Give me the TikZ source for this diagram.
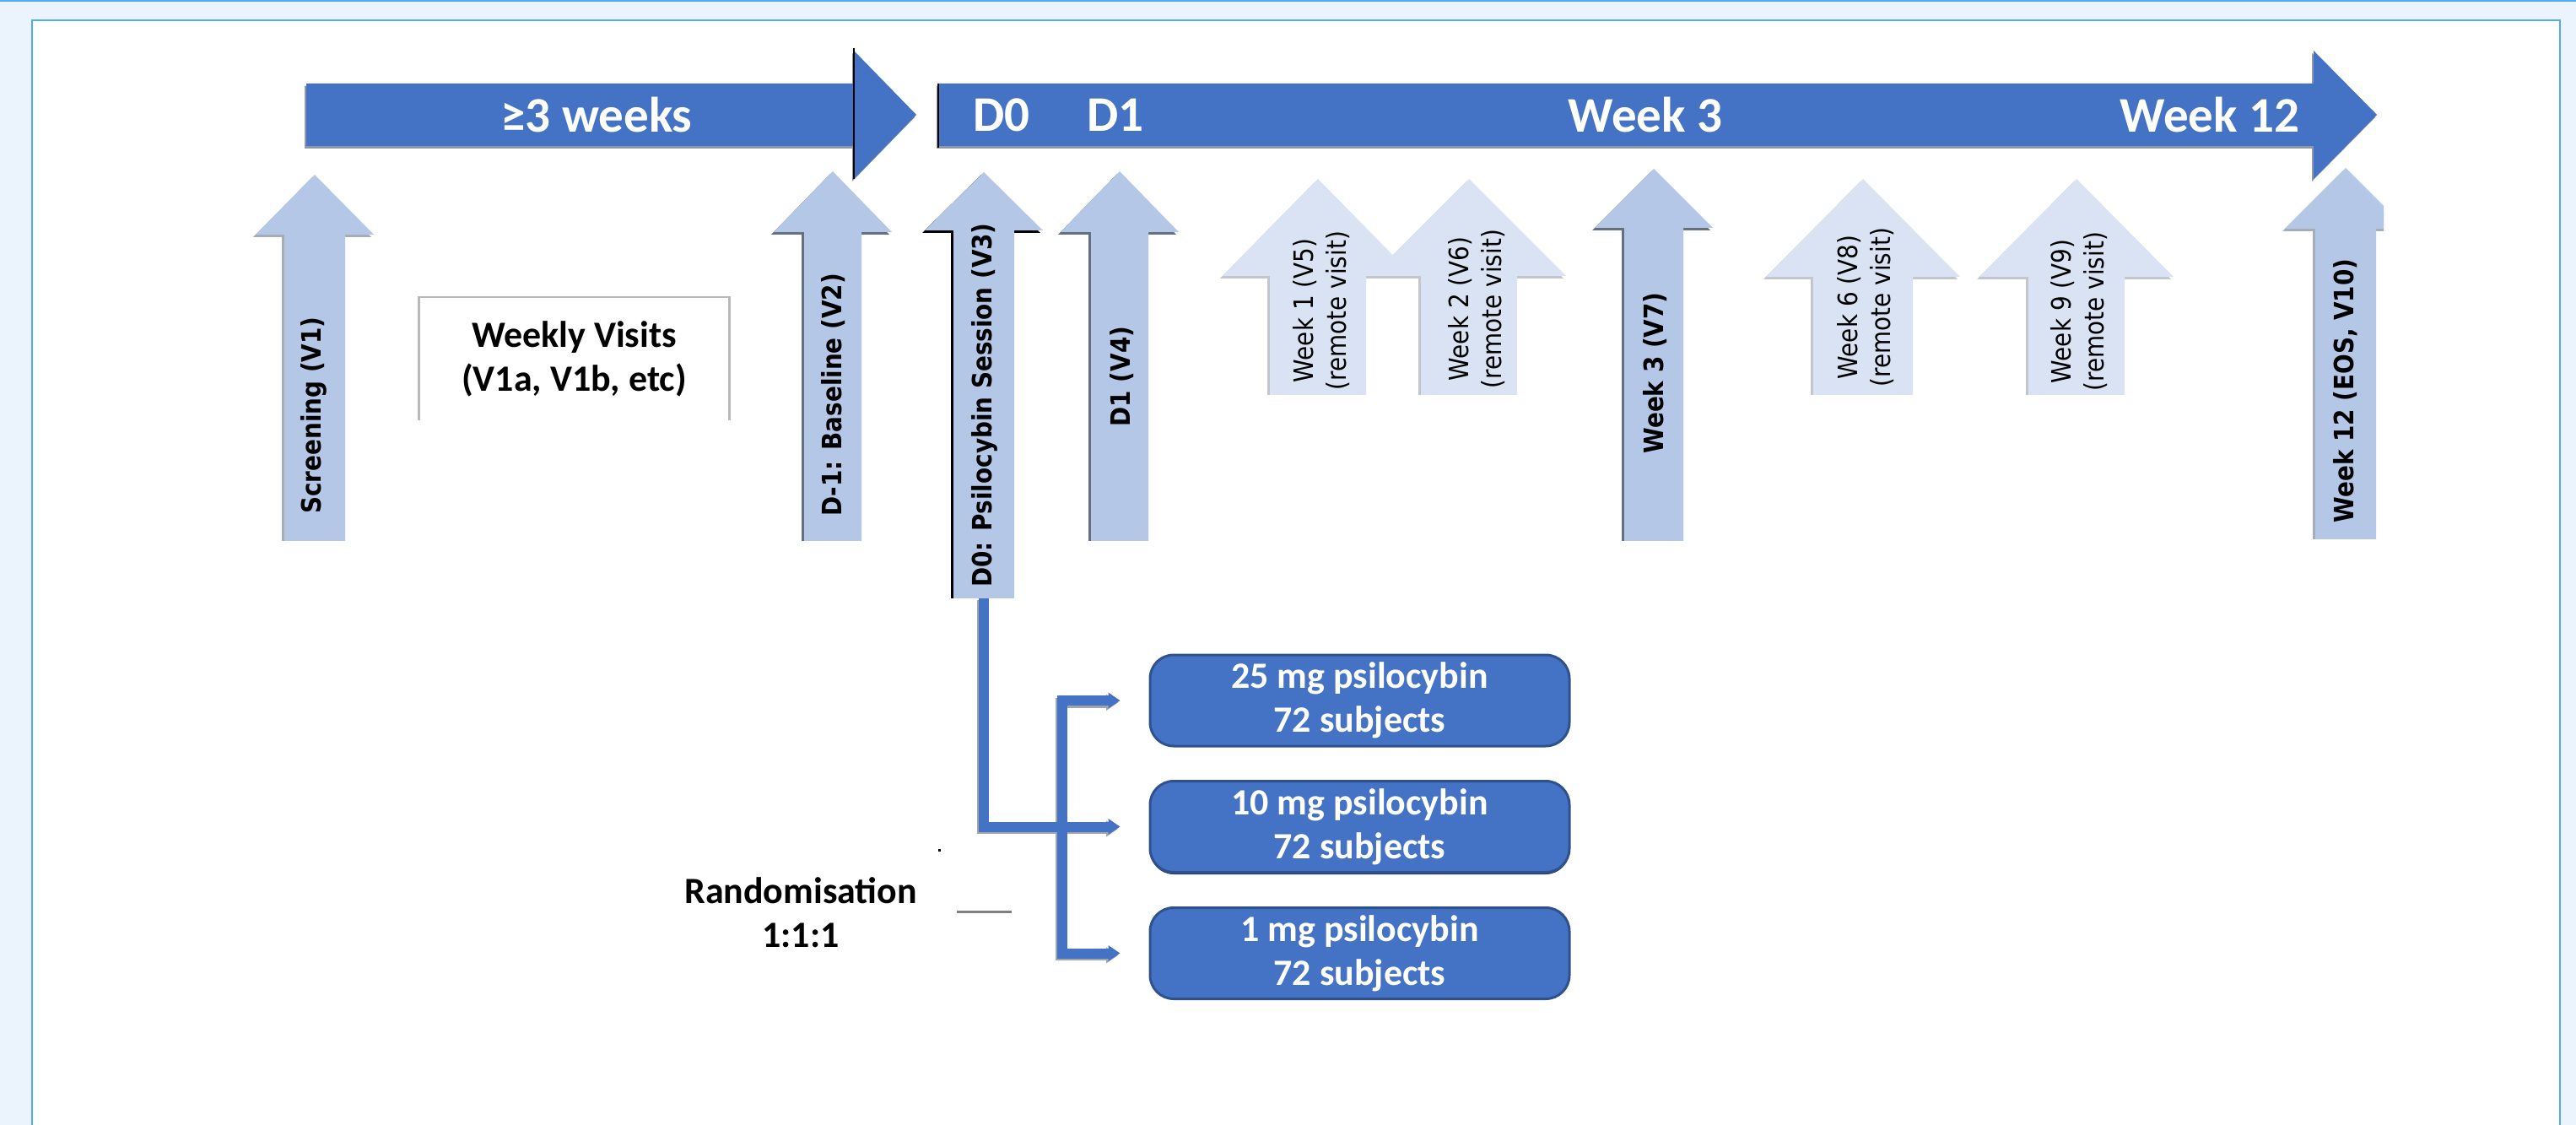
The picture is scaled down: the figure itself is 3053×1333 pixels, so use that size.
\documentclass[tikz,border=0pt]{standalone}
\usepackage{fontspec}
\setmainfont{Carlito}
\newfontfamily\vfont[FakeStretch=0.88]{DejaVu Sans}
\usetikzlibrary{arrows.meta}
\definecolor{mainblue}{HTML}{4472C4}
\definecolor{lightA}{HTML}{B4C7E7}
\definecolor{lightB}{HTML}{DAE3F3}
\definecolor{boxedge}{HTML}{2F528F}
\definecolor{pagebg}{HTML}{EBF4FC}
\definecolor{panelline}{HTML}{4DAEF5}
\definecolor{shadowlt}{HTML}{A7ADB7}
\definecolor{shadowdk}{HTML}{66707E}
\definecolor{shadowpale}{HTML}{C3C7CD}
\definecolor{mainshadow}{HTML}{8F96A4}
\definecolor{connshade}{HTML}{A0A4AB}
\newcommand\visitarrow[8]{%
 \fill[#8] ({#1-#5-3},#4) -- ({#1-#5-3},{#3+3}) -- ({#1-#6-3},{#3+3}) -- ({#1-3},{#2+3}) -- ({#1+#6-3},{#3+3}) -- ({#1+#5-3},{#3+3}) -- ({#1+#5-3},#4) -- cycle;
 \fill[#7] ({#1-#5},#4) -- ({#1-#5},#3) -- ({#1-#6},#3) -- (#1,#2) -- ({#1+#6},#3) -- ({#1+#5},#3) -- ({#1+#5},#4) -- cycle;}
\tikzset{
 vlab/.style={rotate=90, inner sep=0, font=\vfont\bfseries\fontsize{9}{11}\selectfont},
 vlabtwo/.style={rotate=90, inner sep=0, align=center, font=\vfont\fontsize{9}{11.1}\selectfont},
 tlab/.style={inner sep=0, text=white, font=\bfseries\fontsize{16.8}{20}\selectfont},
 calb/.style={inner sep=0, align=center, font=\bfseries\fontsize{12.5}{14.8}\selectfont},
 grpbox/.style={draw=boxedge, line width=0.3mm, fill=mainblue, rounded corners=2.8mm,
   minimum width=49.7mm, minimum height=10.8mm, align=center, text=white, inner sep=0,
   font=\bfseries\fontsize{12.5}{14.8}\selectfont},
 grpshadow/.style={fill=boxedge!70!black, rounded corners=2.8mm, minimum width=49.7mm,
   minimum height=10.8mm, inner sep=0},
 conn/.style={draw=mainblue, line width=1.2mm, -{Triangle[width=1.8mm,length=1.4mm]}, shorten >=3.4mm},
 connsh/.style={conn, draw=connshade, transform canvas={shift={(-2.5,2.5)}}},
}
\begin{document}
\begin{tikzpicture}[x=0.1mm,y=-0.1mm]
\clip (0,0) rectangle (3053,1333);
% page and panel
\fill[pagebg] (0,0) rectangle (3053,1333);
\fill[panelline] (0,0) rectangle (3053,2.5);
\draw[panelline, line width=0.25mm, fill=white] (38,24) rectangle (3034,1360);
% main timeline arrows
\fill[mainshadow, shift={(-2,3)}] (363,99) -- (1012,99) -- (1012,60) -- (1086,136) -- (1012,212) -- (1012,173) -- (363,173) -- cycle;
\fill[mainblue] (363,99) -- (1012,99) -- (1012,60) -- (1086,136) -- (1012,212) -- (1012,173) -- (363,173) -- cycle;
\draw[black, line width=0.25mm] (1012,57) -- (1012,212);
\fill[mainshadow, shift={(-2,3)}] (1112,99) -- (2742,99) -- (2742,60) -- (2817,136) -- (2742,212) -- (2742,173) -- (1112,173) -- cycle;
\fill[mainblue] (1112,99) -- (2742,99) -- (2742,60) -- (2817,136) -- (2742,212) -- (2742,173) -- (1112,173) -- cycle;
\draw[black, line width=0.25mm] (1112,99) -- (1112,175);
\node[tlab] (t3w) at (707,136) {≥3 weeks};
\node[tlab] (td0) at (1187,136) {D0};
\node[tlab] (td1) at (1322,136) {D1};
\node[tlab] (tw3) at (1950,136) {Week 3};
\node[tlab] (tw12) at (2619,136) {Week 12};
% visit arrows
\visitarrow{373}{207}{278}{641}{36}{70}{lightA}{shadowlt}
\visitarrow{987}{203}{275}{641}{34}{70}{lightA}{shadowdk}
\visitarrow{1166}{204}{273}{709}{36}{70}{lightA}{black}
\visitarrow{1327}{203}{275}{641}{34}{70}{lightA}{shadowdk}
\visitarrow{1741}{212}{327}{468}{57}{115}{lightB}{shadowpale}
\visitarrow{1562}{212}{327}{468}{57}{113}{lightB}{shadowpale}
\visitarrow{1960}{200}{270}{641}{35}{70}{lightA}{shadowdk}
\visitarrow{2208}{212}{328}{468}{59}{115}{lightB}{shadowpale}
\visitarrow{2461}{212}{328}{468}{57}{115}{lightB}{shadowpale}
\begin{scope}
\clip (0,0) rectangle (2825,1333);
\visitarrow{2780}{199}{271}{639}{36}{72}{lightA}{shadowlt}
\end{scope}
% visit labels
\node[vlab] (lscr) at (372,492) {Screening (V1)};
\node[vlab] (lbase) at (988,468) {D-1: Baseline (V2)};
\node[vlab] (ld0) at (1167,480) {D0: Psilocybin Session (V3)};
\node[vlab] (ld1) at (1330,446) {D1 (V4)};
\node[vlabtwo] (lw1) at (1566,368) {Week 1 (V5)\\(remote visit)};
\node[vlabtwo] (lw2) at (1750,366) {Week 2 (V6)\\(remote visit)};
\node[vlab] (lw3) at (1962,442) {Week 3 (V7)};
\node[vlabtwo] (lw6) at (2211,364) {Week 6 (V8)\\(remote visit)};
\node[vlabtwo] (lw9) at (2464,369) {Week 9 (V9)\\(remote visit)};
\node[vlab] (lw12) at (2780,463) {Week 12 (EOS, V10)};
% weekly visits box
\node[calb, minimum width=36.7mm, minimum height=14.5mm] (wv) at (680.5,425) {Weekly Visits\\(V1a, V1b, etc)};
\draw[gray!55, line width=0.25mm] (wv.south west) -- (wv.north west) -- (wv.north east) -- (wv.south east);
% dose boxes
\node[grpshadow] (s10) at (1611.5,982) {};
\node[grpbox] (b25) at (1611.5,830) {25 mg psilocybin\\72 subjects};
\node[grpbox] (b10) at (1611.5,979.5) {10 mg psilocybin\\72 subjects};
\node[grpbox] (b1) at (1611.5,1129.5) {1 mg psilocybin\\72 subjects};
% randomisation connectors
\coordinate (d0bot) at (1166,709);
\coordinate (brk) at (1259,979.5);
\draw[connsh] (d0bot) |- (b10.west);
\draw[connsh] (brk) |- (b25.west);
\draw[connsh] (brk) |- (b1.west);
\draw[conn] (d0bot) |- (b10.west);
\draw[conn] (brk) |- (b25.west);
\draw[conn] (brk) |- (b1.west);
% randomisation label
\node[calb] (rand) at (949,1081) {Randomisation\\1:1:1};
\coordinate (gl1) at (1134,1080);
\coordinate (gl2) at (1199,1080);
\draw[gray, line width=0.3mm] (gl1) -- (gl2);
\node[fill=black, inner sep=0, minimum size=0.3mm] (dot) at (1113.5,1007.5) {};
\end{tikzpicture}
\end{document}
